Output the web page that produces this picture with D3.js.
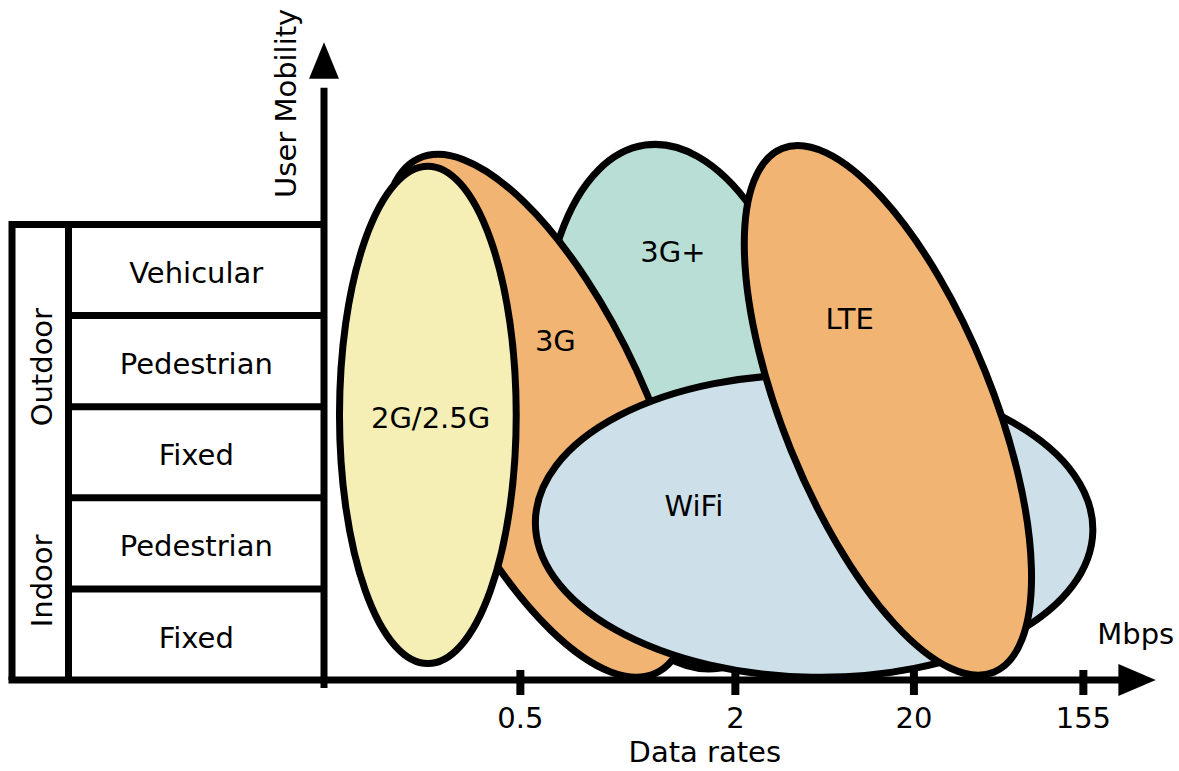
<!DOCTYPE html>
<html>
<head>
<meta charset="utf-8">
<script src="https://cdn.jsdelivr.net/npm/d3@7"></script>
<style>
  html, body { margin: 0; padding: 0; background: #fff; }
  svg { display: block; }
  text { font-family: "DejaVu Sans", sans-serif; font-size: 29px; fill: #000; }
</style>
</head>
<body>
<svg width="1179" height="771"></svg>
<script>
// mobility levels, bottom row first
const mobilityLevels = ['Fixed', 'Pedestrian', 'Fixed', 'Pedestrian', 'Vehicular']
const environments = ['Indoor', 'Outdoor']
const environmentFrom = [0, 2]
const environmentTo = [2, 5]

// data rate ticks (Mbps) and where they sit along the rate axis
const rateTicks = ['0.5', '2', '20', '155']
const rateTickAt = [2.15, 4.51, 6.47, 8.33]

// technologies, in drawing order (back to front)
const techs = ['3G+', '3G', '2G/2.5G', 'WiFi', 'LTE']
const techRate = [3.93, 2.34, 1.14, 5.38, 6.19]
const techMobility = [3.0, 2.90, 2.91, 1.69, 2.96]
const techRateSpread = [1.50, 1.20, 0.97, 3.06, 1.15]
const techMobilitySpread = [2.90, 3.11, 2.73, 1.66, 3.10]
const techTilt = [-8, -24.7, 0, 1, -22]
const techLabelRate = [3.83, 2.54, 1.17, 4.06, 5.77]
const techLabelMobility = [4.70, 3.73, 2.88, 1.91, 3.97]
const techColors = ['#b8ded5', '#f1b473', '#f5efb6', '#cde0e9', '#f1b473']

const svg = d3.select('svg')
const stroke = 7

/* scales: same pixel size per unit on both axes */
let y = d3.scaleLinear().domain([0, 5]).range([680, 224.5])
let unit = y(0) - y(1)
let x = d3.scaleLinear().domain([0, 9]).range([324, 324 + 9 * unit])

let tableLeft = 12
let groupRight = 68.5

/* ellipses */
let ellipses = techs.map((t, i) => ({
  name: t,
  cx: techRate[i], cy: techMobility[i],
  rx: techRateSpread[i], ry: techMobilitySpread[i],
  tilt: techTilt[i],
  lx: techLabelRate[i], ly: techLabelMobility[i],
  color: techColors[i]
}))

svg.append('g')
  .selectAll('ellipse')
  .data(ellipses)
  .enter()
  .append('ellipse')
    .attr('transform', d => `translate(${x(d.cx)},${y(d.cy)}) rotate(${d.tilt})`)
    .attr('rx', d => d.rx * unit)
    .attr('ry', d => d.ry * unit)
    .attr('fill', d => d.color)
    .attr('stroke', '#000')
    .attr('stroke-width', stroke)

svg.append('g')
  .selectAll('text')
  .data(ellipses)
  .enter()
  .append('text')
    .attr('x', d => x(d.lx))
    .attr('y', d => y(d.ly))
    .attr('dy', '0.36em')
    .style('text-anchor', 'middle')
    .text(d => d.name)

/* mobility table */
let table = svg.append('g')
  .attr('fill', 'none')
  .attr('stroke', '#000')
  .attr('stroke-width', stroke)

table.append('path')
  .attr('d', `M${x(0)},${y(5)}H${tableLeft}V${y(0)}`)

table.append('line')
  .attr('x1', groupRight).attr('x2', groupRight)
  .attr('y1', y(5)).attr('y2', y(0))

table.selectAll('.row')
  .data(d3.range(1, mobilityLevels.length))
  .enter()
  .append('line')
    .attr('x1', groupRight).attr('x2', x(0))
    .attr('y1', d => y(d)).attr('y2', d => y(d))

svg.append('g')
  .selectAll('text')
  .data(mobilityLevels)
  .enter()
  .append('text')
    .attr('x', (groupRight + x(0)) / 2)
    .attr('y', (d, i) => y(i + 0.5))
    .attr('dy', '0.45em')
    .style('text-anchor', 'middle')
    .text(d => d)

svg.append('g')
  .selectAll('text')
  .data(environments)
  .enter()
  .append('text')
    .attr('transform', (d, i) =>
      `translate(${(tableLeft + groupRight) / 2 + 12},${y((environmentFrom[i] + environmentTo[i]) / 2) + (i ? 6 : -8)}) rotate(-90)`)
    .style('text-anchor', 'middle')
    .text(d => d)

/* y axis with arrow */
svg.append('line')
  .attr('x1', x(0)).attr('x2', x(0))
  .attr('y1', y(0) + 8).attr('y2', y(6.5))
  .attr('stroke', '#000')
  .attr('stroke-width', stroke)

svg.append('path')
  .attr('d', `M${x(0)},${y(7)}L${x(0) - 15},${y(6.6)}L${x(0) + 15},${y(6.6)}Z`)
  .attr('fill', '#000')

svg.append('text')
  .attr('transform', `translate(${x(0) - 28},${y(6.33)}) rotate(-90)`)
  .style('text-anchor', 'middle')
  .text('User Mobility')

/* x axis with arrow */
svg.append('line')
  .attr('x1', tableLeft - stroke / 2).attr('x2', x(8.75))
  .attr('y1', y(0)).attr('y2', y(0))
  .attr('stroke', '#000')
  .attr('stroke-width', stroke)

svg.append('path')
  .attr('d', `M${x(9.13)},${y(0)}L${x(8.72)},${y(0) - 16}L${x(8.72)},${y(0) + 16}Z`)
  .attr('fill', '#000')

let xAxis = d3.axisBottom(x)
  .tickValues(rateTickAt)
  .tickFormat((d, i) => rateTicks[i])
  .tickSizeOuter(0)

let axisG = svg.append('g')
  .attr('transform', `translate(0,${y(0)})`)
  .call(xAxis)

axisG.select('.domain').remove()
axisG.selectAll('.tick line')
  .attr('y1', -10)
  .attr('y2', 15)
  .attr('stroke', '#000')
  .attr('stroke-width', 8)
axisG.selectAll('.tick text')
  .attr('y', 48)
  .attr('dy', 0)
  .style('font-size', '29px')
  .style('font-family', '"DejaVu Sans", sans-serif')

svg.append('text')
  .attr('x', x(4.18))
  .attr('y', y(0) + 82)
  .style('text-anchor', 'middle')
  .text('Data rates')

svg.append('text')
  .attr('x', x(8.91))
  .attr('y', y(0.39))
  .style('text-anchor', 'middle')
  .text('Mbps')
</script>
</body>
</html>
